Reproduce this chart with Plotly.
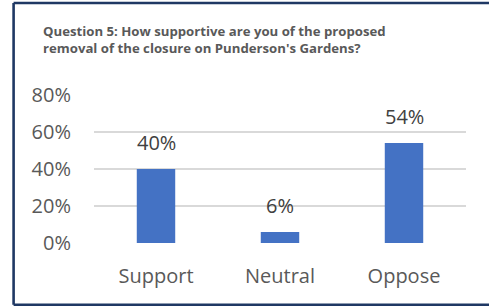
import plotly.graph_objects as go

categories = ["Support", "Neutral", "Oppose"]
values = [0.40, 0.06, 0.54]
labels = ["40%", "6%", "54%"]
tick_vals = [0, 0.2, 0.4, 0.6, 0.8]
tick_text = ["0%", "20%", "40%", "60%", "80%"]
title_text = "Question 5: How supportive are you of the proposed<br>removal of the closure on Punderson's Gardens?"

W, H = 489, 306
L, R, T, B = 94, 23, 95, 63
pw, ph = W - L - R, H - T - B
FONT = "Open Sans, Liberation Sans"

fig = go.Figure()
fig.add_trace(go.Bar(
    x=categories, y=values, width=0.31,
    marker=dict(color="#4472C4", line=dict(width=0)),
    hoverinfo="skip",
))

for c, v, t in zip(categories, values, labels):
    fig.add_annotation(x=c, y=v, text=t, showarrow=False, yanchor="bottom",
                       yshift=11, font=dict(family=FONT, size=20, color="#404040"))

fig.add_annotation(xref="paper", yref="paper",
                   x=(41 - L) / pw, y=(H - B - 20) / ph,
                   xanchor="left", yanchor="top", align="left",
                   text="<b>" + title_text + "</b>", showarrow=False,
                   font=dict(family=FONT, size=13.2, color="#595959"))

# frame: left, top and bottom edges (right edge lies outside the picture)
fx0, fx1 = (13.6 - L) / pw, (W + 5 - L) / pw
fy0, fy1 = (H - B - 304.7) / ph, (H - B - 3) / ph
for (xa, ya, xb, yb) in [(fx0, fy0, fx0, fy1), (fx0, fy1, fx1, fy1), (fx0, fy0, fx1, fy0)]:
    fig.add_shape(type="line", xref="paper", yref="paper", x0=xa, y0=ya, x1=xb, y1=yb,
                  line=dict(color="#1F3864", width=2.6), layer="above")

fig.update_layout(
    width=W, height=H,
    margin=dict(l=L, r=R, t=T, b=B),
    paper_bgcolor="white", plot_bgcolor="white",
    showlegend=False,
    xaxis=dict(showline=False, ticks="", showgrid=False, ticklabelstandoff=19,
               tickfont=dict(family=FONT, size=20, color="#595959")),
    yaxis=dict(range=[0, 0.8], tickvals=tick_vals, ticktext=tick_text,
               showgrid=True, gridcolor="#D9D9D9", gridwidth=1.5, zeroline=False,
               showline=False, ticks="", ticklabelstandoff=22,
               tickfont=dict(family=FONT, size=20, color="#595959")),
)

fig.write_html("out.html", config={"displayModeBar": False},
               post_script="document.body.style.margin='0px';"
                           "document.body.style.overflow='hidden';"
                           "document.documentElement.style.overflow='hidden';")
